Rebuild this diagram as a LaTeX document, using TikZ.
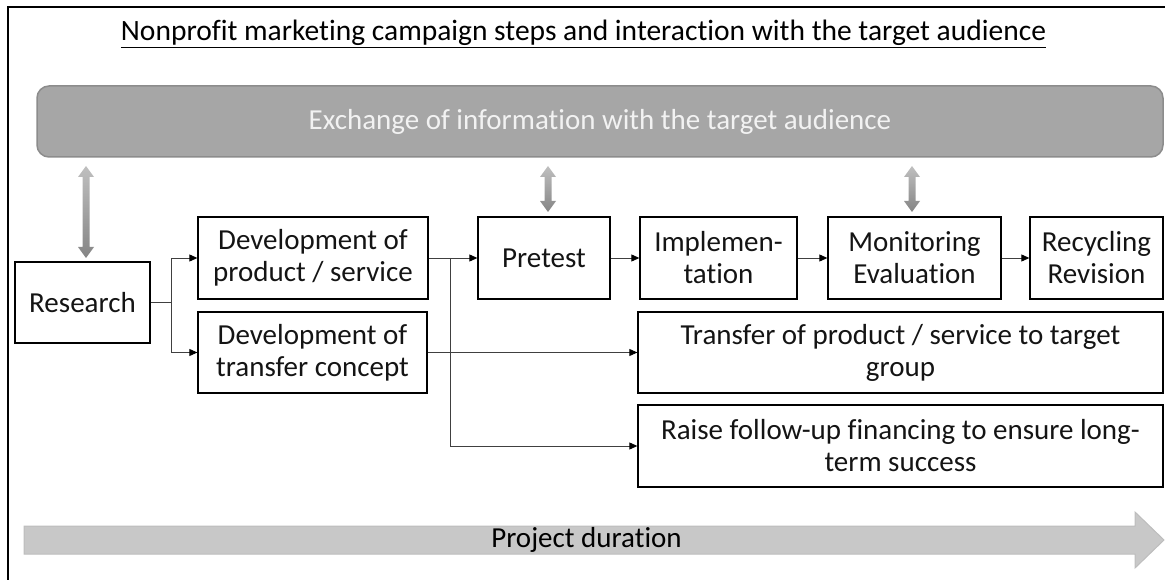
\documentclass[tikz,border=0pt]{standalone}
\usepackage{fontspec}
\setmainfont{Carlito}[Ligatures=NoCommon]
\usetikzlibrary{arrows.meta,calc}
\definecolor{bargray}{HTML}{A6A6A6}
\definecolor{bardraw}{HTML}{8C8C8C}
\definecolor{txtdark}{HTML}{141414}
\definecolor{linegray}{HTML}{404040}
\definecolor{durfill}{HTML}{C8C8C8}
\definecolor{durdraw}{HTML}{BDBDBD}
\tikzset{
  stepbox/.style={draw=black, line width=1.3pt, rectangle, align=center, inner sep=0pt,
    text=txtdark, font=\fontsize{29}{32}\selectfont},
  conn/.style={draw=linegray, line width=0.9pt, -{Triangle[length=8pt,width=7pt,color=black]}},
  plainconn/.style={draw=linegray, line width=0.9pt},
  dblarrow/.style={top color=black!25, bottom color=black!48, draw=none},
}
\begin{document}
\begin{tikzpicture}[x=1pt,y=-1pt]
\useasboundingbox (0,0) rectangle (1165,580);
% frame
\draw[line width=2pt] (7.5,585) -- (7.5,7) -- (1170,7);
% title
\node[font=\fontsize{29.5}{32}\selectfont, text=black, inner sep=0pt] (title) at (583.5,34) {\underline{Nonprofit marketing campaign steps and interaction with the target audience}};
% bar
\node[draw=bardraw, fill=bargray, line width=1.5pt, rounded corners=12pt, minimum width=1126pt, minimum height=71pt, inner sep=0pt, text=white!95!black, font=\fontsize{29}{32}\selectfont] (bar) at (600,121.5) {Exchange of information with the target audience};
% boxes
\node[stepbox, minimum width=135pt, minimum height=81pt] (research) at (82.5,302.5) {Research};
\node[stepbox, minimum width=230pt, minimum height=82pt] (devP) at (313,258) {Development of\\product / service};
\node[stepbox, minimum width=229pt, minimum height=81pt] (devT) at (312.5,352.5) {Development of\\transfer concept};
\node[stepbox, minimum width=132pt, minimum height=82pt] (pretest) at (544,258) {Pretest};
\node[stepbox, minimum width=157pt, minimum height=82pt] (impl) at (718.5,258) {Implemen-\\tation};
\node[stepbox, minimum width=173pt, minimum height=82pt] (monit) at (914.5,258) {Monitoring\\Evaluation};
\node[stepbox, minimum width=133pt, minimum height=82pt] (recyc) at (1096.5,258) {Recycling\\Revision};
\node[stepbox, minimum width=525pt, minimum height=81pt] (transfer) at (900.5,352.5) {Transfer of product / service to target\\group};
\node[stepbox, minimum width=525pt, minimum height=82pt] (raise) at (900.5,446) {Raise follow-up financing to ensure long-\\term success};
% connectors
\coordinate (rs) at ($(research.east)+(21,0)$);
\draw[plainconn] (research.east) -- (rs);
\draw[conn] (rs) |- (devP.west);
\draw[conn] (rs) |- (devT.west);
\draw[conn] (devP.east) -- (pretest.west);
\coordinate (br) at ($(devP.east)+(22,0)$);
\draw[conn] (br) |- (raise.west);
\draw[conn] (devT.east) -- (transfer.west);
\draw[conn] (pretest.east) -- (impl.west);
\draw[conn] (impl.east) -- (monit.west);
\draw[conn] (monit.east) -- (recyc.west);
% double arrows
\foreach \x/\yt/\yb in {86/166/258, 548/166/212, 912/166/212}{
  \shade[dblarrow] (\x-3.5,\yt+11) -- (\x-8,\yt+11) -- (\x,\yt) -- (\x+8,\yt+11) -- (\x+3.5,\yt+11)
    -- (\x+3.5,\yb-11) -- (\x+8,\yb-11) -- (\x,\yb) -- (\x-8,\yb-11) -- (\x-3.5,\yb-11) -- cycle;
}
% project duration arrow
\draw[fill=durfill, draw=durdraw, line width=1pt] (24,526) -- (1135,526) -- (1135,512) -- (1164,540) -- (1135,568) -- (1135,554) -- (24,554) -- cycle;
\node[text=black, inner sep=0pt, font=\fontsize{29}{32}\selectfont] (dur) at (586.5,540) {Project duration};
\end{tikzpicture}
\end{document}
